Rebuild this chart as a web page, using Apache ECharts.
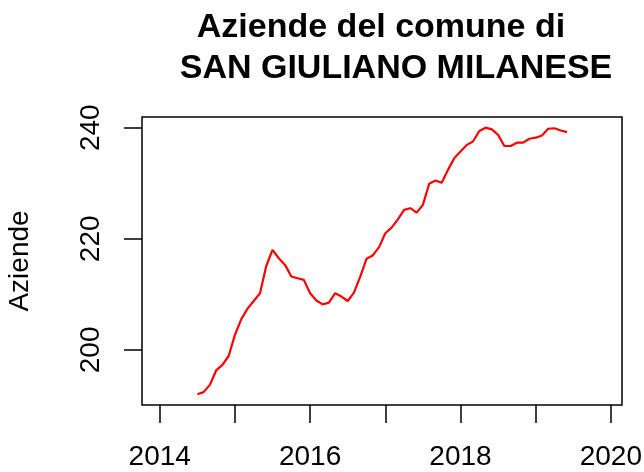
<!DOCTYPE html>
<html>
<head>
<meta charset="utf-8">
<script src="https://cdn.jsdelivr.net/npm/echarts@6/dist/echarts.min.js"></script>
<style>
  html, body { margin: 0; padding: 0; background: #fff; }
  #main { width: 644px; height: 472px; }
</style>
</head>
<body>
<div id="main"></div>
<script>
// monthly counts, first value is July 2014
const firstMonth = { year: 2014, month: 7 };
const aziende = [
  192.0, 192.4, 193.7, 196.3, 197.3, 198.9, 202.7, 205.5, 207.4, 208.8, 210.2, 215.1,
  218.0, 216.5, 215.3, 213.2, 212.9, 212.6, 210.2, 208.9, 208.2, 208.5, 210.2, 209.6,
  208.8, 210.3, 213.2, 216.4, 217.0, 218.5, 221.0, 222.0, 223.5, 225.2, 225.5, 224.7,
  226.1, 229.9, 230.5, 230.1, 232.4, 234.5, 235.7, 236.9, 237.5, 239.4, 240.0, 239.7,
  238.7, 236.7, 236.7, 237.3, 237.3, 238.0, 238.2, 238.6, 239.8, 239.9, 239.5, 239.2
];
const xTicks = [2014, 2015, 2016, 2017, 2018, 2019, 2020];
const xLabels = [2014, 2016, 2018, 2020];
const yTicks = [200, 220, 240];

const font = "'Liberation Sans', Arial, sans-serif";

// decimal year for each month
const points = aziende.map((v, i) => {
  const m = firstMonth.month - 1 + i;
  return [firstMonth.year + m / 12, v];
});

const titleStyle = {
  fontFamily: font,
  fontSize: 34,
  fontWeight: 'bold',
  color: '#000'
};

const chart = echarts.init(document.getElementById('main'));
chart.setOption({
  animation: false,
  backgroundColor: '#fff',
  title: [{
    text: 'Aziende del comune di',
    left: 376,
    top: 6,
    textAlign: 'center',
    textStyle: titleStyle
  }, {
    text: 'SAN GIULIANO MILANESE',
    left: 391,
    top: 47,
    textAlign: 'center',
    textStyle: titleStyle
  }],
  grid: {
    left: 142,
    right: 22,
    top: 117,
    bottom: 67,
    show: true,
    borderColor: '#000',
    borderWidth: 1.5,
    containLabel: false,
    outerBoundsMode: 'none'
  },
  xAxis: {
    type: 'value',
    min: 2013.764,
    max: 2020.148,
    splitLine: { show: false },
    axisLine: { show: false },
    axisTick: {
      show: true,
      customValues: xTicks,
      length: 18,
      lineStyle: { color: '#000', width: 1.5 }
    },
    axisLabel: {
      customValues: xLabels,
      formatter: v => String(v),
      margin: 38,
      fontFamily: font,
      fontSize: 28,
      color: '#000'
    }
  },
  yAxis: {
    type: 'value',
    min: 190.08,
    max: 241.92,
    name: 'Aziende',
    nameLocation: 'middle',
    nameGap: 108,
    nameRotate: 90,
    nameTextStyle: { fontFamily: font, fontSize: 28, color: '#000' },
    splitLine: { show: false },
    axisLine: { show: false },
    axisTick: {
      show: true,
      customValues: yTicks,
      length: 18,
      lineStyle: { color: '#000', width: 1.5 }
    },
    axisLabel: {
      customValues: yTicks,
      formatter: v => String(v),
      rotate: 90,
      margin: 37,
      fontFamily: font,
      fontSize: 28,
      color: '#000',
      align: 'center',
      verticalAlign: 'bottom'
    }
  },
  series: [{
    type: 'line',
    data: points,
    showSymbol: false,
    lineStyle: { color: '#ff0000', width: 2.2 },
    itemStyle: { color: '#ff0000' }
  }]
});
</script>
</body>
</html>
